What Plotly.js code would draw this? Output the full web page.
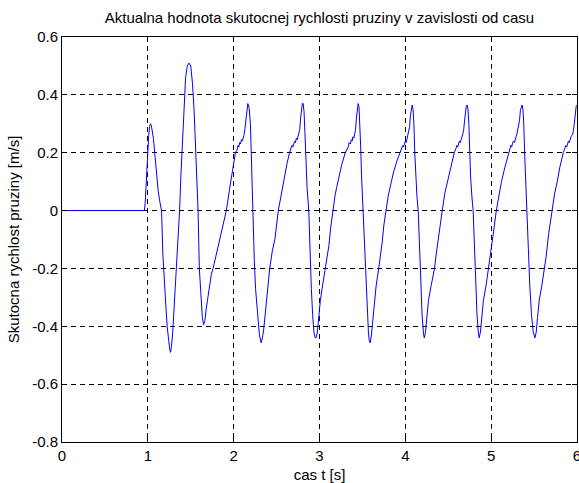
<!DOCTYPE html>
<html>
<head>
<meta charset="utf-8">
<script src="https://cdn.plot.ly/plotly-3.0.1.min.js"></script>
<style>
html,body{margin:0;padding:0;background:#fff;}
#chart{width:579px;height:483px;}
</style>
</head>
<body>
<div id="chart"></div>
<script>
// time [s]
const timeS = [
0,0.96,0.97,0.98,0.99,1.00,1.01,1.02,1.03,1.04,1.05,1.065,1.08,1.10,1.12,1.14,1.16,1.175,1.19,1.21,1.225,1.24,1.255,1.265,1.275,1.29,1.31,1.33,1.35,1.37,1.385,1.40,1.42,1.44,1.46,1.48,1.50,1.52,1.54,1.56,1.575,1.585,1.60,1.62,1.635,1.65,1.665,1.68,1.71,1.74,1.76,1.80,1.84,1.88,1.915,1.95,1.98,2.02,2.04,2.05,2.06,2.07,2.08,2.09,2.10,2.11,2.12,2.13,2.14,2.15,2.165,2.18,2.195,2.205,2.215,2.225,2.24,2.255,2.27,2.285,2.30,2.32,
2.335,2.35,2.365,2.38,2.40,2.42,2.45,2.48,2.52,2.55,2.58,2.62,2.65,2.67,2.68,2.69,2.70,2.71,2.72,2.73,2.74,2.75,2.76,2.77,2.78,2.79,2.80,2.81,2.82,2.83,2.84,2.855,2.875,2.89,2.905,2.92,2.935,2.95,2.96,
2.975,2.99,3.01,3.03,3.05,3.07,3.09,3.11,3.13,3.155,3.18,3.20,3.23,3.26,3.30,3.32,3.335,3.345,3.36,3.37,3.38,3.39,3.40,3.41,3.42,3.43,3.44,3.45,3.46,3.47,3.48,3.49,3.50,3.51,3.525,3.54,3.555,3.57,3.58,3.59,
3.605,3.62,3.64,3.66,3.69,3.71,3.73,3.75,3.775,3.80,3.83,3.86,3.90,3.94,3.96,3.97,3.98,3.99,4.00,4.01,4.02,4.03,4.04,4.05,4.06,4.07,4.08,4.09,4.10,4.11,4.12,4.135,4.15,4.165,4.18,4.195,4.21,4.22,
4.235,4.25,4.27,4.30,4.34,4.36,4.39,4.43,4.46,4.49,4.53,4.57,4.59,4.60,4.61,4.62,4.63,4.64,4.65,4.66,4.67,4.68,4.69,4.70,4.71,4.72,4.73,4.74,4.75,4.76,4.775,4.79,4.805,4.82,4.835,4.85,4.86,
4.875,4.89,4.91,4.94,4.97,4.99,5.02,5.06,5.09,5.12,5.16,5.20,5.22,5.23,5.24,5.25,5.26,5.27,5.28,5.29,5.30,5.31,5.33,5.34,5.35,5.36,5.37,5.38,5.39,5.40,5.41,5.42,5.435,5.45,5.47,5.49,5.51,
5.525,5.54,5.56,5.59,5.62,5.64,5.67,5.71,5.74,5.77,5.80,5.84,5.86,5.87,5.88,5.89,5.90,5.91,5.92,5.93,5.94,5.95,5.96,5.97,5.98,5.99,6.00
];
// measured spring velocity [m/s]
const velocity = [
0,0,0.03,0.10,0.17,0.22,0.26,0.29,0.30,0.295,0.28,0.25,0.20,0.13,0.07,0.03,0,-0.15,-0.25,-0.33,-0.40,-0.45,-0.48,-0.49,-0.47,-0.42,-0.32,-0.20,-0.10,0,0.12,0.23,0.36,0.46,0.50,0.51,0.50,0.44,0.34,0.18,0.05,0,-0.20,-0.32,-0.37,-0.395,-0.38,-0.34,-0.27,-0.22,-0.20,-0.15,-0.10,-0.045,0,0.07,0.13,0.20,0.21,0.225,0.22,0.235,0.23,0.245,0.24,0.25,0.26,0.28,0.31,0.34,0.37,0.355,0.30,0.20,0.08,0,-0.17,-0.27,-0.33,-0.39,-0.43,-0.457,
-0.44,-0.41,-0.36,-0.32,-0.26,-0.20,-0.14,-0.10,0,0.05,0.10,0.16,0.20,0.215,0.225,0.22,0.235,0.24,0.235,0.25,0.245,0.26,0.265,0.28,0.32,0.35,0.37,0.37,0.34,0.27,0.18,0.08,0,-0.15,-0.27,-0.36,-0.42,-0.44,-0.44,
-0.42,-0.37,-0.31,-0.27,-0.23,-0.20,-0.16,-0.12,-0.06,0,0.05,0.08,0.12,0.16,0.20,0.215,0.22,0.235,0.23,0.245,0.24,0.255,0.25,0.265,0.28,0.32,0.36,0.37,0.36,0.31,0.22,0.12,0.05,0,-0.12,-0.25,-0.35,-0.42,-0.45,-0.457,
-0.43,-0.38,-0.31,-0.26,-0.20,-0.16,-0.11,-0.05,0,0.05,0.09,0.13,0.17,0.20,0.215,0.225,0.22,0.235,0.24,0.235,0.25,0.255,0.27,0.29,0.33,0.36,0.365,0.35,0.30,0.20,0.12,0.05,0,-0.12,-0.26,-0.36,-0.42,-0.44,
-0.42,-0.37,-0.31,-0.26,-0.20,-0.15,-0.08,0,0.06,0.10,0.15,0.20,0.215,0.225,0.22,0.235,0.24,0.235,0.25,0.255,0.265,0.28,0.31,0.345,0.36,0.365,0.35,0.30,0.20,0.12,0.05,0,-0.12,-0.26,-0.36,-0.42,-0.44,
-0.42,-0.37,-0.31,-0.26,-0.20,-0.16,-0.09,0,0.05,0.10,0.15,0.20,0.215,0.225,0.22,0.235,0.24,0.235,0.25,0.255,0.265,0.28,0.31,0.345,0.36,0.365,0.35,0.30,0.20,0.12,0.05,0,-0.12,-0.26,-0.36,-0.42,-0.44,
-0.42,-0.37,-0.31,-0.26,-0.20,-0.16,-0.08,0,0.06,0.10,0.15,0.20,0.215,0.225,0.22,0.235,0.24,0.235,0.25,0.255,0.26,0.265,0.28,0.30,0.33,0.36,0.365
];
const xTicks = [0,1,2,3,4,5,6];
const yTicks = [-0.8,-0.6,-0.4,-0.2,0,0.2,0.4,0.6];
const yTickText = ['-0.8','-0.6','-0.4','-0.2','0','0.2','0.4','0.6'];

const fontFam = 'Liberation Sans, Arial, Helvetica, sans-serif';
const fs = 15;
const axisCommon = {
  showline: true, linecolor: '#000', linewidth: 1, mirror: 'ticks',
  ticks: 'inside', ticklen: 5, tickcolor: '#000', tickwidth: 1,
  showgrid: true, gridcolor: '#000', gridwidth: 1, griddash: '5px,4px',
  zeroline: false, ticklabeloverflow: 'allow', automargin: false,
  tickfont: {family: fontFam, size: fs, color: '#000'}
};

Plotly.newPlot('chart', [{
  x: timeS, y: velocity, type: 'scatter', mode: 'lines',
  line: {color: '#0000ff', width: 1}, hoverinfo: 'skip', cliponaxis: true
}], {
  width: 579, height: 483,
  paper_bgcolor: '#fff', plot_bgcolor: '#fff',
  margin: {l: 62, r: 2, t: 37, b: 41},
  showlegend: false,
  font: {family: fontFam, size: fs, color: '#000'},
  title: {text: 'Aktualna hodnota skutocnej rychlosti pruziny v zavislosti od casu',
          font: {family: fontFam, size: fs, color: '#000'},
          x: 0.5, xanchor: 'center', xref: 'paper', y: 0.963, yanchor: 'middle', yref: 'container'},
  xaxis: Object.assign({}, axisCommon, {
    range: [0, 6], tickvals: xTicks, ticktext: xTicks.map(String),
    title: {text: 'cas t [s]', font: {family: fontFam, size: fs, color: '#000'}, standoff: 12}
  }),
  yaxis: Object.assign({}, axisCommon, {
    range: [-0.8, 0.6], tickvals: yTicks, ticktext: yTickText,
    title: {text: 'Skutocna rychlost pruziny [m/s]', font: {family: fontFam, size: fs, color: '#000'}, standoff: 8}
  })
}, {staticPlot: true, displayModeBar: false});
</script>
</body>
</html>
